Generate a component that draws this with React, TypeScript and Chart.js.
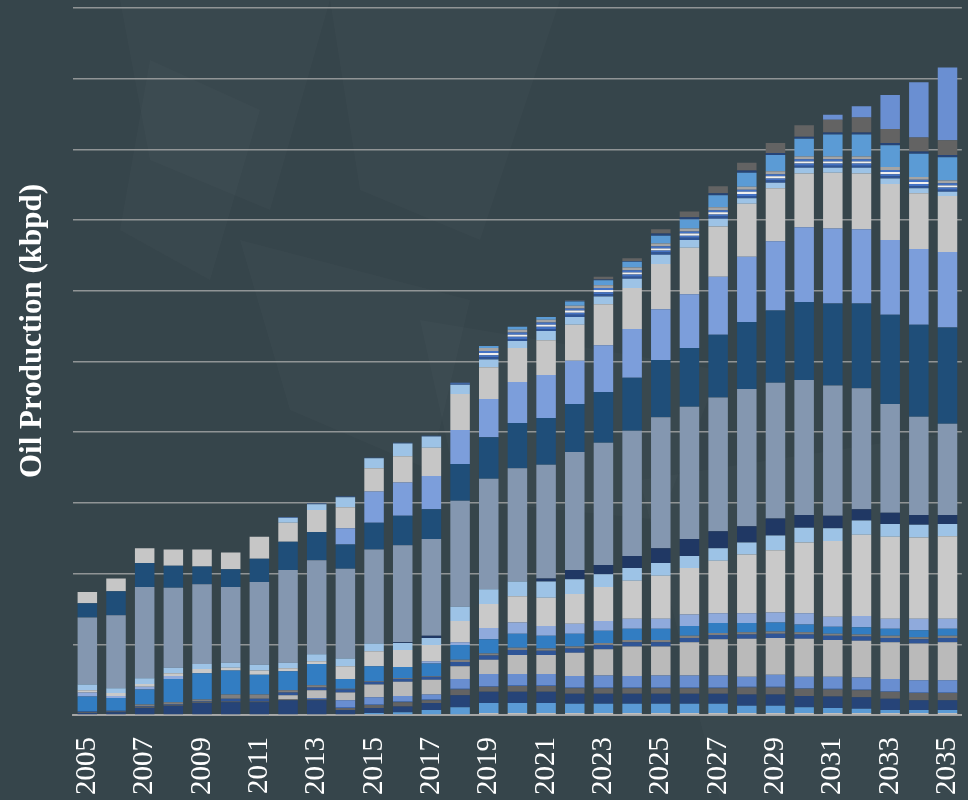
import React, { useEffect, useRef } from 'react';
import { Chart, registerables } from 'chart.js';

Chart.register(...registerables);

const years = [
  '2005', '2006', '2007', '2008', '2009', '2010', '2011', '2012', '2013', '2014', '2015',
  '2016', '2017', '2018', '2019', '2020', '2021', '2022', '2023', '2024', '2025', '2026',
  '2027', '2028', '2029', '2030', '2031', '2032', '2033', '2034', '2035',
];

const yTitle = 'Oil Production (kbpd)';
const yMax = 1000;
const yStep = 100;

// stacked layers, bottom to top (kbpd)
const s01 = [0,0,0,0,0,0,0,0,0,0,0,0,0,1,3,3,3,3,3,3,3,3,3,3,3,3,3,3,3,3,3];
const s02 = [0,0,0,0,0,0,0,0,0,1,3,4,7,10,14,14,14,13,13,13,13,13,13,10,10,8,7,6,4,4,4];
const s03 = [3,4,10,13,17,18,18,21,21,6,7,8,10,17,16,16,16,14,14,14,14,14,14,16,16,16,16,16,16,14,14];
const s04 = [1,1,1,1,1,1,1,1,1,3,4,6,4,8,7,8,8,8,8,8,8,8,8,10,10,10,10,10,10,10,10];
const s05 = [0,0,0,0,0,0,0,0,1,1,1,1,1,1,1,1,1,1,1,1,1,1,1,1,1,1,1,1,1,1,1];
const s06 = [0,0,0,0,0,0,0,0,1,10,10,8,7,14,17,16,16,16,17,16,17,17,17,14,17,16,17,17,17,17,17];
const s07 = [0,0,0,0,0,0,0,6,11,11,18,20,21,18,20,27,27,33,37,42,41,47,51,54,52,54,52,52,52,52,54];
const s08 = [1,1,1,1,1,4,4,4,4,4,4,4,4,6,6,7,6,6,6,6,6,6,6,6,6,6,6,6,6,6,6];
const s09 = [0,0,3,3,3,6,6,3,3,1,1,1,1,3,3,3,3,3,3,3,3,3,3,3,3,3,3,3,3,3,3];
const s10 = [21,18,21,33,37,34,28,27,30,14,21,16,18,21,20,20,18,18,17,16,16,14,14,13,13,11,10,10,10,10,10];
const s11 = [6,3,4,4,0,0,0,0,0,0,0,0,3,4,16,16,14,14,14,14,14,16,14,14,14,16,14,16,14,16,14];
const s12 = [3,4,4,4,6,4,6,4,4,18,21,24,23,30,34,37,40,42,48,54,61,66,74,83,88,100,107,115,116,115,117];
const s13 = [8,7,8,8,7,7,8,8,10,11,11,10,10,20,21,21,23,21,18,18,18,17,18,17,21,21,18,20,18,18,17];
const s14 = [0,0,0,0,0,0,0,0,0,0,0,1,3,0,0,0,4,13,13,17,21,24,24,23,24,18,18,16,16,14,13];
const s15 = [95,103,129,113,113,107,117,131,133,127,133,137,137,150,156,160,161,167,173,177,185,187,189,194,192,191,184,171,154,139,129];
const s16 = [20,34,34,31,25,25,33,40,40,34,38,42,42,52,59,64,66,68,72,75,81,83,89,95,102,110,116,120,126,130,136];
const s17 = [0,0,0,0,0,0,0,0,0,23,44,47,47,48,54,58,61,61,66,69,72,76,82,92,98,106,106,105,106,107,107];
const s18 = [16,18,21,23,24,24,31,27,31,30,33,37,40,51,45,48,49,51,58,58,64,66,71,75,75,76,79,79,79,79,79];
const s19 = [0,0,0,0,0,0,0,7,8,14,14,18,16,13,11,10,13,11,11,13,13,11,11,8,8,8,7,8,8,7,6];
const s20 = [0,0,0,0,0,0,0,1,1,1,1,1,1,1,3,3,3,3,3,3,3,3,3,3,3,3,3,3,3,3,3];
const s21 = [0,0,0,0,0,0,0,0,0,0,0,0,0,1,3,3,3,3,3,3,3,3,3,3,3,3,3,3,3,3,3];
const s22 = [0,0,0,0,0,0,0,0,0,0,0,0,0,0,3,3,3,3,3,3,3,3,3,3,3,3,3,3,3,3,3];
const s23 = [0,0,0,0,0,0,0,0,0,0,0,0,0,1,3,3,3,3,3,3,3,3,3,3,3,3,3,3,3,3,3];
const s24 = [0,0,0,0,0,0,0,0,0,0,0,0,0,0,4,4,4,4,4,4,4,4,4,4,4,4,4,4,4,4,4];
const s25 = [0,0,0,0,0,0,0,0,0,0,0,0,0,0,3,4,4,6,7,8,11,13,17,20,23,25,31,31,31,33,33];
const s26 = [0,0,0,0,0,0,0,0,0,0,0,0,0,0,0,0,0,1,1,1,3,3,3,3,3,3,3,3,3,3,3];
const s27 = [0,0,0,0,0,0,0,0,0,0,0,0,0,0,0,0,0,1,4,4,6,8,10,11,14,16,18,21,20,20,21];
const s28 = [0,0,0,0,0,0,0,0,0,0,0,0,0,0,0,0,0,0,0,0,0,0,0,0,0,0,7,16,48,78,103];

const seriesData = [s01,s02,s03,s04,s05,s06,s07,s08,s09,s10,s11,s12,s13,s14,s15,s16,s17,s18,s19,s20,s21,s22,s23,s24,s25,s26,s27,s28];
const seriesColors = [
  '#bfbfbf', '#5b9bd5', '#264478', '#636363', '#4472c4', '#698ed0', '#bababa',
  '#2f5597', '#7f7f7f', '#327dc2', '#8faadc', '#c9c9c9', '#9dc3e6', '#203864',
  '#8497b0', '#1f4e79', '#7c9edb', '#c6c6c6', '#9dc3e6', '#2f5597', '#4472c4',
  '#efefef', '#4472c4', '#a5a5a5', '#5b9bd5', '#264478', '#636363', '#6a8fd2',
];

const bgPolys: [number, number][][] = [
  [[120, 0], [330, 0], [270, 210], [150, 160]],
  [[330, 0], [560, 0], [480, 240], [360, 190]],
  [[240, 240], [470, 300], [430, 470], [290, 410]],
  [[420, 320], [720, 370], [660, 520], [460, 500]],
  [[640, 480], [968, 430], [968, 800], [720, 800]],
  [[150, 60], [260, 110], [210, 280], [120, 230]],
];

const bgPlugin = {
  id: 'bgPlugin',
  beforeDraw(chart: any) {
    const ctx = chart.ctx as CanvasRenderingContext2D;
    ctx.save();
    ctx.fillStyle = '#36454b';
    ctx.fillRect(0, 0, chart.width, chart.height);
    bgPolys.forEach((p) => {
      ctx.beginPath();
      ctx.moveTo(p[0][0], p[0][1]);
      for (let k = 1; k < p.length; k++) ctx.lineTo(p[k][0], p[k][1]);
      ctx.closePath();
      ctx.fillStyle = 'rgba(255,255,255,0.02)';
      ctx.fill();
    });
    ctx.restore();
  },
};

const titlePlugin = {
  id: 'titlePlugin',
  afterDraw(chart: any) {
    const ctx = chart.ctx as CanvasRenderingContext2D;
    ctx.save();
    ctx.translate(33, 331);
    ctx.rotate(-Math.PI / 2);
    ctx.font = 'bold 31px "Liberation Serif"';
    ctx.fillStyle = '#ffffff';
    ctx.textAlign = 'center';
    ctx.textBaseline = 'middle';
    ctx.fillText(yTitle, 0, 0);
    ctx.restore();
  },
};

export default function App() {
  const ref = useRef<HTMLCanvasElement | null>(null);

  useEffect(() => {
    if (!ref.current) return;
    const chart = new Chart(ref.current, {
      type: 'bar',
      data: {
        labels: years,
        datasets: seriesData.map((d, i) => ({
          label: `Field ${i + 1}`,
          data: d,
          backgroundColor: seriesColors[i],
          borderWidth: 0,
          barPercentage: 0.68,
          categoryPercentage: 1,
        })),
      },
      options: {
        responsive: false,
        animation: false,
        layout: { padding: { left: 73, right: 6, top: 8, bottom: 2 } },
        plugins: {
          legend: { display: false },
          tooltip: { enabled: false },
        },
        scales: {
          x: {
            stacked: true,
            grid: { display: false, drawTicks: true, tickLength: 19 },
            border: { display: true, color: 'rgba(170,170,170,0.9)', width: 2 },
            ticks: {
              autoSkip: false,
              maxRotation: 90,
              minRotation: 90,
              padding: 3,
              color: '#ffffff',
              font: { family: '"Liberation Serif", serif', size: 29, lineHeight: 0.6 },
              callback: (_v: any, idx: number) => (idx % 2 === 0 ? years[idx] : ''),
            },
          },
          y: {
            stacked: true,
            min: 0,
            max: yMax,
            ticks: { display: false, stepSize: yStep },
            grid: { color: 'rgba(175,175,175,0.75)', lineWidth: 1.5, drawTicks: false },
            border: { display: false },
          },
        },
      },
      plugins: [bgPlugin, titlePlugin],
    });
    return () => chart.destroy();
  }, []);

  return (
    <div style={{ position: 'fixed', left: 0, top: 0, width: 968, height: 800, background: '#36454b' }}>
      <canvas ref={ref} width={968} height={800} style={{ width: 968, height: 800, display: 'block' }} />
    </div>
  );
}
